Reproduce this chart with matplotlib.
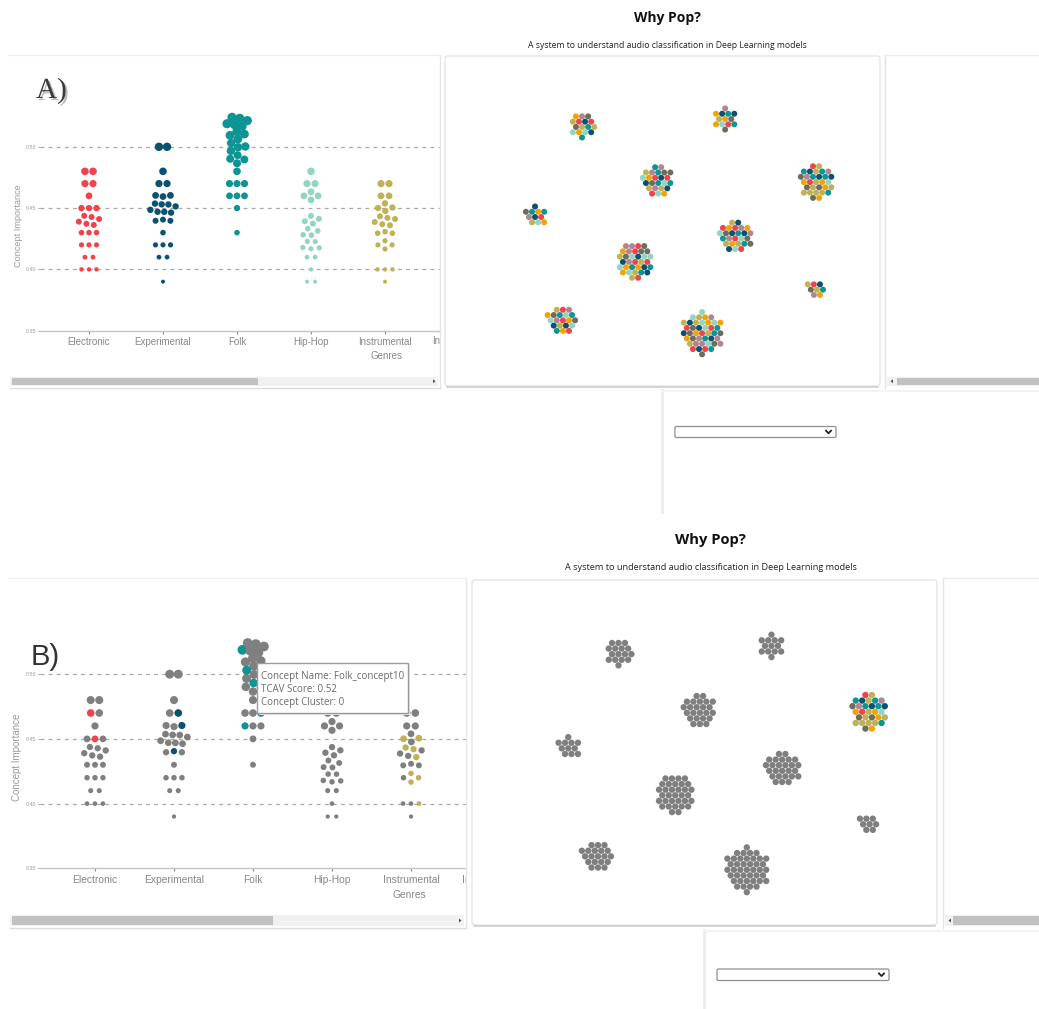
import numpy as np
import matplotlib
matplotlib.use("Agg")
import matplotlib.pyplot as plt
import matplotlib.patheffects as pe
from matplotlib.patches import Rectangle, FancyBboxPatch, Polygon
from matplotlib.transforms import Bbox, TransformedBbox

plt.rcParams['font.family'] = ['Liberation Sans', 'DejaVu Sans']

W, H = 1039, 1009

genres = ["Electronic", "Experimental", "Folk", "Hip-Hop", "Instrumental",
          "International", "Pop", "Rock"]
genre_colors = ["#F0434C", "#0B5270", "#0E9494", "#93D5C2", "#BFB155",
                "#F0A30A", "#B3858F", "#6C6E5C"]
faded = "#7F7F7F"

# TCAV scores of the concepts in the first five genres
electronic_scores = [0.48]*2 + [0.47]*2 + [0.46] + [0.45]*3 + [0.44]*6 + [0.43]*3 + [0.42]*3 + [0.41]*2 + [0.40]*3
experimental_scores = [0.50]*2 + [0.48] + [0.47]*2 + [0.46]*3 + [0.45]*8 + [0.44]*3 + [0.43] + [0.42]*3 + [0.41]*2 + [0.39]
folk_scores = [0.52]*6 + [0.51]*4 + [0.50]*4 + [0.49]*4 + [0.48] + [0.47]*3 + [0.46]*3 + [0.45] + [0.43]
hiphop_scores = [0.48] + [0.47]*2 + [0.46]*4 + [0.44]*4 + [0.43]*4 + [0.42]*5 + [0.41]*2 + [0.40] + [0.39]*2
instrumental_scores = [0.47]*2 + [0.46]*2 + [0.45]*4 + [0.44]*6 + [0.43]*3 + [0.42]*4 + [0.40]*3 + [0.39]

# concepts (index into the lists above) that belong to concept cluster 0
electronic_c0 = [2, 6]
experimental_c0 = [4, 7, 17]
folk_c0 = [0, 11, 15, 21, 22]
hiphop_c0 = [0]
instrumental_c0 = [4, 7, 9, 11, 12, 18, 19, 20, 23]

swarm_scores = [electronic_scores, experimental_scores, folk_scores,
                hiphop_scores, instrumental_scores]
swarm_c0 = [electronic_c0, experimental_c0, folk_c0, hiphop_c0, instrumental_c0]

# concept clusters: centre in the 2-D embedding (0..1, y down) and members per genre
cluster_x = [0.853, 0.315, 0.644, 0.490, 0.207, 0.667, 0.437, 0.855, 0.271, 0.591]
cluster_y = [0.382, 0.215, 0.191, 0.385, 0.488, 0.553, 0.624, 0.708, 0.801, 0.840]
cluster_members = [
    [2, 3, 5, 1, 9, 4, 2, 4],
    [2, 2, 2, 2, 3, 2, 1, 2],
    [1, 2, 2, 1, 1, 3, 1, 2],
    [3, 3, 4, 3, 3, 2, 3, 3],
    [1, 2, 2, 1, 1, 2, 1, 1],
    [4, 4, 3, 3, 3, 3, 3, 3],
    [5, 4, 3, 5, 4, 4, 4, 4],
    [1, 1, 1, 0, 2, 1, 1, 1],
    [3, 2, 3, 3, 2, 3, 2, 2],
    [5, 5, 4, 6, 5, 5, 6, 6],
]

hover_name = "Folk_concept10"
hover_score = 0.52
hover_cluster = 0

screens = [
    dict(cx=667, title_y=18, sub_y=46, sc=1.0,
         swarm=(40, 61.0, 440, 330.7), xlim=(-0.662, 4.743),
         left=(8, 55, 440, 388), track=(10, 376.5, 438, 386), thumb=(12, 258),
         mid=(445, 56, 880, 386), right=(885, 55, 1045, 388), rthumb=897,
         low=(662, 390, 512), drop=(675, 426.5, 836, 437.5),
         tag="A)", tag_xy=(36, 98), hover=False),
    dict(cx=710.5, title_y=540, sub_y=568, sc=1.06,
         swarm=(40, 583.6, 466, 868.3), xlim=(-0.696, 4.696),
         left=(8, 578, 466, 928), track=(10, 915, 464, 926), thumb=(12, 273),
         mid=(472, 580, 937, 925), right=(943, 578, 1045, 928), rthumb=953,
         low=(704, 930, 1009), drop=(717, 969, 889, 980.5),
         tag="B)", tag_xy=(31, 665), hover=True),
]


def fig_rect(x0, y0, x1, y1):
    return [x0 / W, 1 - y1 / H, (x1 - x0) / W, (y1 - y0) / H]


def swarm_layout(ax, xi, scores, sep):
    pts = ax.transData.transform(np.column_stack([np.full(len(scores), xi), scores]))
    cx = pts[0, 0]
    ty = pts[:, 1].copy()
    x = np.full(len(scores), cx, float)
    y = ty.copy()
    for v in sorted(set(scores)):
        idx = [i for i, s in enumerate(scores) if s == v]
        n = len(idx)
        for k, i in enumerate(idx):
            x[i] += (k - (n - 1) / 2) * sep
            if n > 3:
                y[i] += 0.4 if k % 2 else -0.4
    for _ in range(400):
        x += (cx - x) * 0.04
        y += (ty - y) * 0.1
        dx = x[:, None] - x[None, :]
        dy = y[:, None] - y[None, :]
        d = np.hypot(dx, dy)
        np.fill_diagonal(d, np.inf)
        over = np.clip(sep - d, 0, None)
        push = over / np.maximum(d, 1e-6) * 0.25
        x += (dx * push).sum(1)
        y += (dy * push).sum(1)
    return ax.transData.inverted().transform(np.column_stack([x, y]))


def hex_offsets(n, sp):
    pts = []
    for j in range(-10, 11):
        for i in range(-10, 11):
            px = (i + j / 2) * sp
            py = j * sp * np.sqrt(3) / 2
            pts.append((np.hypot(px, py), np.arctan2(py, px), px, py))
    pts.sort(key=lambda p: (round(p[0], 3), p[1]))
    return np.array([[p[2], p[3]] for p in pts[:n]])


def member_colors(counts):
    keys, cols = [], []
    for g, c in enumerate(counts):
        for k in range(c):
            keys.append((k + 0.5) / c + 0.011 * g)
            cols.append(g)
    order = np.argsort(keys, kind="stable")
    return [cols[i] for i in order]


fig = plt.figure(figsize=(W / 100, H / 100), dpi=100)
fig.patch.set_facecolor("white")

over = fig.add_axes([0, 0, 1, 1], zorder=10)
over.set_xlim(0, W)
over.set_ylim(H, 0)
over.axis("off")
over.patch.set_alpha(0)

for lay in screens:
    sc = lay["sc"]

    # ---- beeswarm of concept importance per genre
    x0, y0, x1, y1 = lay["swarm"]
    ax = fig.add_axes(fig_rect(x0, y0, x1, y1))
    ax.set_xlim(*lay["xlim"])
    ax.set_ylim(0.35, 0.57)
    ax.patch.set_alpha(0)
    for s in ["left", "top", "right"]:
        ax.spines[s].set_visible(False)
    ax.spines["bottom"].set_color("#c4c4c4")
    ax.spines["bottom"].set_linewidth(1)
    ax.set_yticks([0.35, 0.40, 0.45, 0.50])
    ax.set_yticklabels(["0.35", "0.40", "0.45", "0.50"])
    ax.tick_params(axis="y", length=1.5, width=0.6, pad=1.2, labelsize=3.8,
                   colors="#9a9a9a")
    ax.set_xticks(range(5))
    ax.set_xticklabels(genres[:5])
    ax.tick_params(axis="x", length=2.2, width=0.8, pad=2.6, labelsize=7 * sc,
                   colors="#888888")
    for v in [0.40, 0.45, 0.50]:
        ax.axhline(v, color="#a8a8a8", lw=0.9, dashes=(3, 3.5), zorder=0)
    ax.text(-0.054, 0.39, "Concept Importance", rotation=90, transform=ax.transAxes,
            ha="center", va="center", fontsize=6.6 * sc, color="#9a9a9a")
    ax.text(0.866, -0.095, "Genres", transform=ax.transAxes, ha="center", va="center",
            fontsize=7 * sc, color="#888888")
    # next genre label, cut off by the panel edge
    nxt = ax.text(5, -0.04, genres[5], transform=ax.get_xaxis_transform(),
                  ha="center", va="center", fontsize=7 * sc, color="#888888")
    nxt.set_clip_box(TransformedBbox(Bbox([[0, 0], [x1 / W, 1]]), fig.transFigure))
    nxt.set_clip_on(True)

    for gi, scores in enumerate(swarm_scores):
        xy = swarm_layout(ax, gi, scores, 8.4 * sc)
        radii = (2.0 + (np.array(scores) - 0.39) * 20) * sc
        if lay["hover"]:
            cols = [genre_colors[gi] if i in swarm_c0[gi] else faded
                    for i in range(len(scores))]
        else:
            cols = [genre_colors[gi]] * len(scores)
        ax.scatter(xy[:, 0], xy[:, 1], s=(1.44 * radii) ** 2, c=cols,
                   linewidths=0, clip_on=False, zorder=3)

    # ---- concept clusters
    mx0, my0, mx1, my1 = lay["mid"]
    cax = fig.add_axes(fig_rect(mx0, my0, mx1, my1))
    cax.set_xlim(0, 1)
    cax.set_ylim(1, 0)
    cax.axis("off")
    aw, ah = mx1 - mx0, my1 - my0
    for ci in range(len(cluster_x)):
        n = sum(cluster_members[ci])
        off = hex_offsets(n, 6.1 * sc)
        gcols = member_colors(cluster_members[ci])
        if lay["hover"] and ci != hover_cluster:
            cols = [faded] * n
        else:
            cols = [genre_colors[g] for g in gcols]
        cax.scatter(cluster_x[ci] + off[:, 0] / aw, cluster_y[ci] + off[:, 1] / ah,
                    s=(1.44 * 3.0 * sc) ** 2, c=cols, linewidths=0)

    # ---- page chrome
    over.text(lay["cx"], lay["title_y"], "Why Pop?", ha="center", va="center",
              fontsize=10 * sc, fontweight="bold", family="Open Sans", color="#111111")
    over.text(lay["cx"], lay["sub_y"],
              "A system to understand audio classification in Deep Learning models",
              ha="center", va="center", fontsize=6.2 * sc, family="Open Sans",
              color="#222222")

    lx0, ly0, lx1, ly1 = lay["left"]
    over.plot([lx0, lx1], [ly0, ly0], color="#f0f0f0", lw=1)
    over.plot([lx1, lx1], [ly0, ly1], color="#e6e6e6", lw=1)
    over.plot([lx0 + 2, lx1], [ly1, ly1], color="#dcdcdc", lw=1)
    tx0, ty0, tx1, ty1 = lay["track"]
    over.add_patch(Rectangle((tx0, ty0), tx1 - tx0, ty1 - ty0, fc="#f1f1f1", ec="none"))
    th0, th1 = lay["thumb"]
    over.add_patch(Rectangle((th0, ty0 + 1), th1 - th0, ty1 - ty0 - 2, fc="#c1c1c1",
                             ec="none"))
    ym = (ty0 + ty1) / 2
    over.add_patch(Polygon([(tx1 - 5, ym - 2), (tx1 - 5, ym + 2), (tx1 - 2.5, ym)],
                           fc="#505050", ec="none"))

    over.add_patch(FancyBboxPatch((mx0, my0), mx1 - mx0, my1 - my0,
                                  boxstyle="round,pad=0,rounding_size=3",
                                  fc="none", ec="#e2e2e2", lw=0.9))
    over.plot([mx0 + 2, mx1 - 2], [my1 + 1, my1 + 1], color="#cfcfcf", lw=1.2)

    rx0, ry0, rx1, ry1 = lay["right"]
    over.plot([rx0, rx0], [ry0, ry1], color="#e4e4e4", lw=1)
    over.plot([rx0, rx1], [ry0, ry0], color="#ececec", lw=1)
    over.add_patch(Rectangle((rx0 + 2, ty0), rx1 - rx0, ty1 - ty0, fc="#f1f1f1", ec="none"))
    over.add_patch(Rectangle((lay["rthumb"], ty0 + 1), rx1 - lay["rthumb"], ty1 - ty0 - 2,
                             fc="#c1c1c1", ec="none"))
    over.add_patch(Polygon([(rx0 + 8, ym - 2), (rx0 + 8, ym + 2), (rx0 + 5.5, ym)],
                           fc="#505050", ec="none"))

    vx, vy0, vy1 = lay["low"]
    over.plot([vx, vx], [vy0, vy1], color="#ececec", lw=2)
    over.plot([vx, W], [vy0 + 1, vy0 + 1], color="#f3f3f3", lw=1.5)
    dx0, dy0, dx1, dy1 = lay["drop"]
    over.add_patch(FancyBboxPatch((dx0, dy0), dx1 - dx0, dy1 - dy0,
                                  boxstyle="round,pad=0,rounding_size=1.5",
                                  fc="white", ec="#8f8f8f", lw=0.9))
    dm = (dy0 + dy1) / 2
    over.plot([dx1 - 10, dx1 - 7.5, dx1 - 5], [dm - 1.3, dm + 1.3, dm - 1.3],
              color="#222222", lw=1.3)

    if lay["tag"] == "A)":
        over.text(*lay["tag_xy"], "A)", ha="left", va="baseline", fontsize=21,
                  family="Liberation Serif", color="#3c3c3c",
                  path_effects=[pe.withSimplePatchShadow(offset=(1.5, -1.5),
                                                         shadow_rgbFace="#777777",
                                                         alpha=0.5)])
    else:
        over.text(*lay["tag_xy"], "B)", ha="left", va="baseline", fontsize=21,
                  family="Liberation Sans", color="#333333")

    if lay["hover"]:
        bx0, by0, bx1, by1 = 257, 663, 408, 713
        over.add_patch(Rectangle((bx0 + 1.5, by0 + 1.5), bx1 - bx0, by1 - by0,
                                 fc="#e6e6e6", ec="none"))
        over.add_patch(Rectangle((bx0, by0), bx1 - bx0, by1 - by0, fc="white",
                                 ec="#9a9a9a", lw=1))
        lines = ["Concept Name: " + hover_name,
                 "TCAV Score: %.2f" % hover_score,
                 "Concept Cluster: %d" % hover_cluster]
        for k, t in enumerate(lines):
            over.text(bx0 + 4, by0 + 13 + 13 * k, t, ha="left", va="center",
                      fontsize=7, family="Open Sans", color="#6a6a6a")

fig.savefig("out.png", dpi=100)
